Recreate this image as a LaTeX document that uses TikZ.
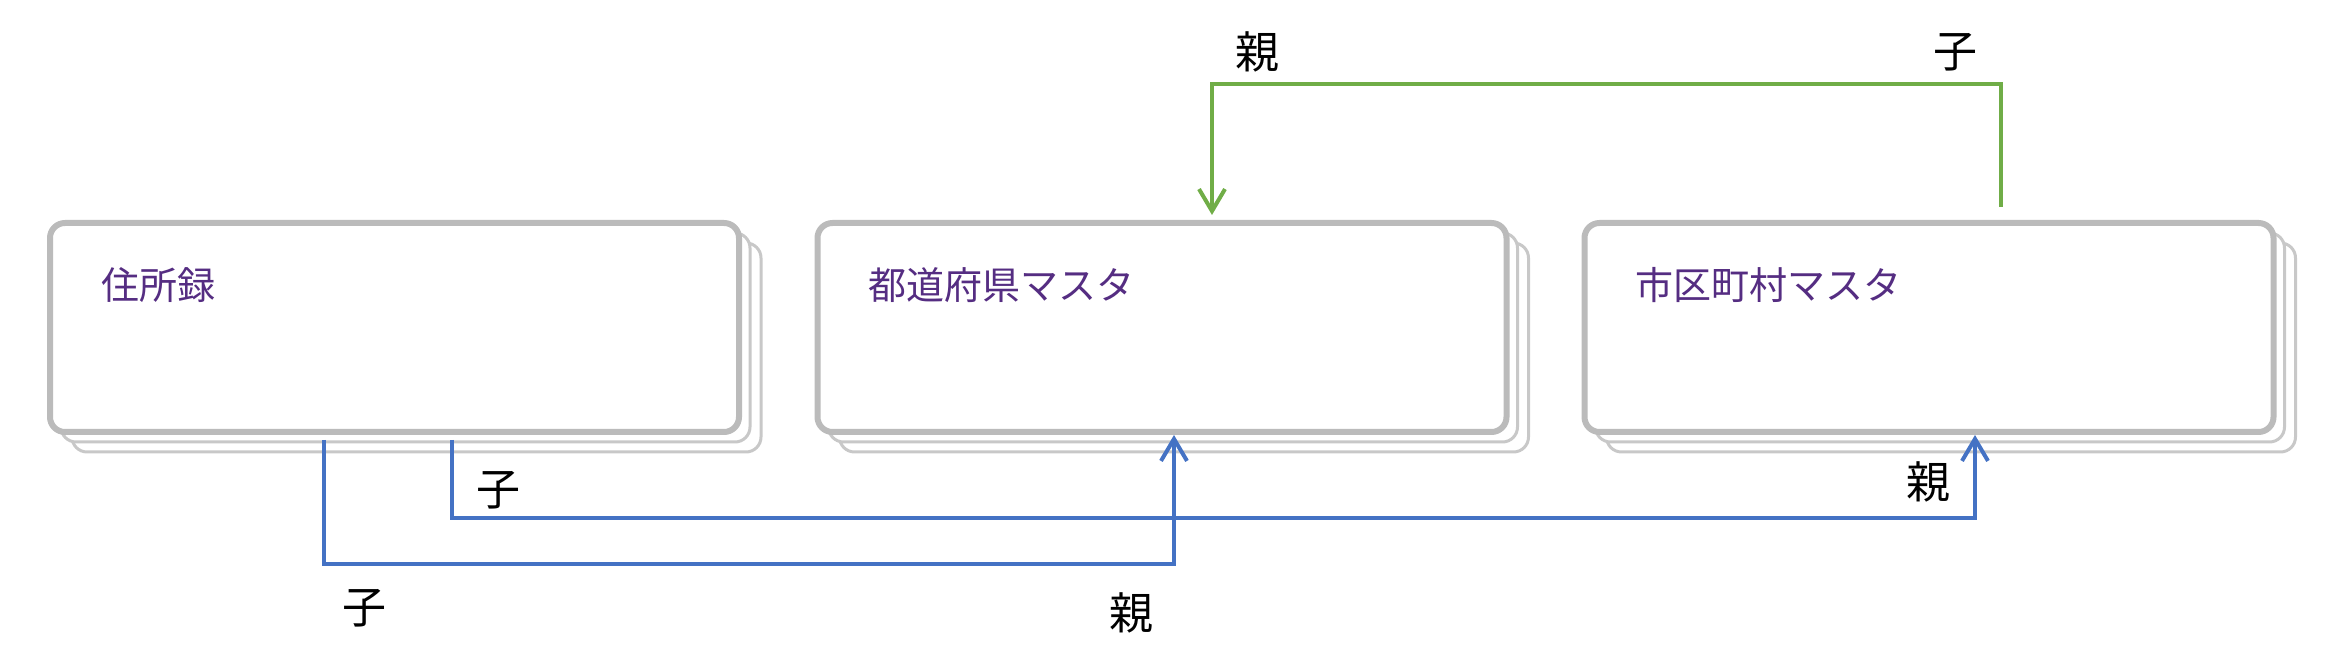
\documentclass[tikz,border=0pt]{standalone}
\usepackage{fontspec}
\newfontfamily\jpfont{Noto Sans CJK JP}
\usetikzlibrary{arrows.meta, shadows}
\definecolor{boxgray}{RGB}{187,187,187}
\definecolor{layergray}{RGB}{200,200,200}
\definecolor{titlepurple}{RGB}{85,45,130}
\definecolor{relblue}{RGB}{68,114,196}
\definecolor{relgreen}{RGB}{112,173,71}
\tikzset{
  tbl/.style={draw=boxgray, line width=3pt, fill=white, rounded corners=7.5pt,
    minimum width=344.5pt, minimum height=104.5pt, inner sep=0pt,
    copy shadow={shadow xshift=11pt, shadow yshift=-10pt, draw=layergray, line width=1.5pt},
    copy shadow={shadow xshift=5.5pt, shadow yshift=-5pt, draw=layergray, line width=1.5pt}},
  tname/.style={font=\jpfont\fontsize{19pt}{19pt}\selectfont, text=titlepurple, inner sep=0pt, anchor=west},
  rlab/.style={font=\jpfont\fontsize{22pt}{22pt}\selectfont, inner sep=0pt},
  rel/.style={line width=2pt, -{Straight Barb[length=11pt, width=13pt]}},
  bluerel/.style={rel, draw=relblue},
  greenrel/.style={rel, draw=relgreen}
}
\begin{document}
\begin{tikzpicture}[x=0.5pt, y=-0.5pt]
		\useasboundingbox (0,0) rectangle (2326,656);
		\node[tbl] (jusho) at (394.5,327.5) {};
		\node[tbl] (pref) at (1162,327.5) {};
		\node[tbl] (city) at (1929,327.5) {};
		\node[tname] (jushoT) at ([xshift=27pt, yshift=-32.5pt]jusho.north west) {住所録};
		\node[tname] (prefT) at ([xshift=27pt, yshift=-32.5pt]pref.north west) {都道府県マスタ};
		\node[tname] (cityT) at ([xshift=27pt, yshift=-32.5pt]city.north west) {市区町村マスタ};
		\coordinate (s1) at ([xshift=-35.25pt, yshift=-2.5pt]jusho.south);
		\coordinate (e1) at ([xshift=6pt]pref.south);
		\coordinate (s2) at ([xshift=28.75pt, yshift=-2.5pt]jusho.south);
		\coordinate (e2) at ([xshift=23pt]city.south);
		\coordinate (s3) at ([xshift=36pt, yshift=6.5pt]city.north);
		\coordinate (e3) at ([xshift=25pt, yshift=2.5pt]pref.north);
		\draw[bluerel] (s1) -- ++(0,124) -| (e1);
		\draw[bluerel] (s2) -- ++(0,78) -| (e2);
		\draw[greenrel] (s3) -- ++(0,-123) -| (e3);
		\node[rlab] (c1) at (364,608) {子};
		\node[rlab] (p1) at (1131,613) {親};
		\node[rlab] (c2) at (498,490) {子};
		\node[rlab] (p2) at (1928,482) {親};
		\node[rlab] (p3) at (1257,52) {親};
		\node[rlab] (c3) at (1955,52) {子};
	\end{tikzpicture}
\end{document}
